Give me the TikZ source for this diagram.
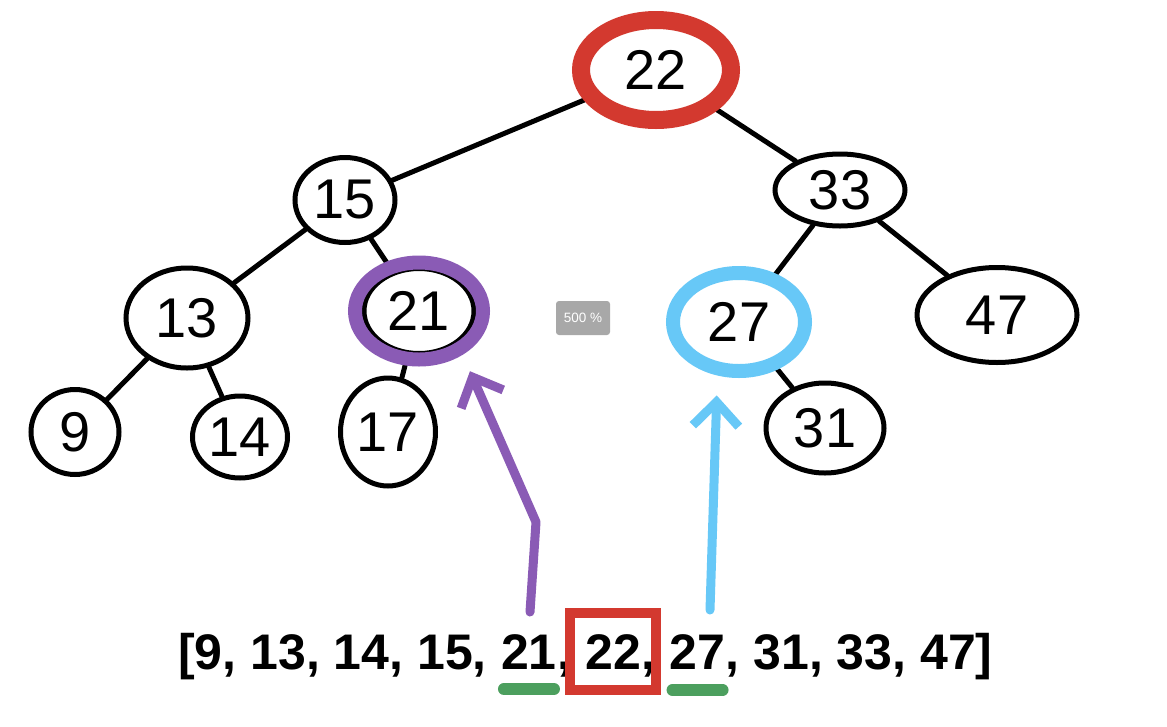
\documentclass[tikz,border=0pt]{standalone}
\usepackage{fontspec}
\setmainfont{Liberation Sans}
\usepackage{tikz}
\usetikzlibrary{shapes.geometric, arrows.meta, positioning, fit}
\definecolor{ringred}{HTML}{D3392F}
\definecolor{ringpurple}{HTML}{8A5BB5}
\definecolor{ringblue}{HTML}{67C8F7}
\definecolor{markgreen}{HTML}{4C9F5E}
\definecolor{badgegray}{HTML}{A8A8A8}
\newcommand{\treefont}{\fontsize{56}{60}\selectfont}
\newcommand{\listfont}{\fontsize{50}{56}\selectfont\bfseries}
\tikzset{
  tnode/.style   = {ellipse, draw, line width=5pt, inner sep=0pt, font=\treefont},
  edge/.style    = {line width=5pt, line cap=round},
  ring/.style    = {ellipse, draw=#1, line width=15pt, inner sep=0pt},
  pointer/.style = {-{Straight Barb[length=24pt, width=46pt]}, line width=9pt,
                    line cap=round, line join=round, draw=#1},
  listtxt/.style = {font=\listfont, inner sep=0pt, anchor=base west},
  uline/.style   = {draw=markgreen, line width=12pt, line cap=round},
  badge/.style   = {fill=badgegray, rounded corners=3pt, text=white,
                    minimum width=54pt, minimum height=34pt, font=\fontsize{13.5}{15}\selectfont},
}

\begin{document}
\begin{tikzpicture}[x=1pt, y=-1pt]
  \path[use as bounding box, fill=white] (0,0) rectangle (1167,726);

  \node[tnode, minimum width=150, minimum height=100] (n22) at (656,70)  {22};
  \node[tnode, minimum width=100, minimum height=85]  (n15) at (345,200) {15};
  \node[tnode, minimum width=130, minimum height=72]  (n33) at (840,190) {33};
  \node[tnode, minimum width=122, minimum height=100] (n13) at (187,318) {13};
  \node[tnode, minimum width=110, minimum height=85]  (n21) at (419,311) {21};
  \node[tnode, minimum width=128, minimum height=94]  (n27) at (739,322) {27};
  \node[tnode, minimum width=160, minimum height=95]  (n47) at (997,315) {47};
  \node[tnode, minimum width=88,  minimum height=85]  (n9)  at (75,432)  {9};
  \node[tnode, minimum width=95,  minimum height=82]  (n14) at (240,437) {14};
  \node[tnode, minimum width=95,  minimum height=108] (n17) at (388,432) {17};
  \node[tnode, minimum width=118, minimum height=90]  (n31) at (825,428) {31};

  \draw[edge] (n22) -- (n15);
  \draw[edge] (n22) -- (n33);
  \draw[edge] (n15) -- (n13);
  \draw[edge] (n15) -- (n21);
  \draw[edge] (n33) -- (n27);
  \draw[edge] (n33) -- (n47);
  \draw[edge] (n13) -- (n9);
  \draw[edge] (n13) -- (n14);
  \draw[edge] (n21) -- (n17);
  \draw[edge] (n27) -- (n31);

  \node[ring=ringred, line width=18pt, minimum width=150, minimum height=100] (h22) at (n22) {};
  \node[ring=ringpurple, line width=14pt, minimum width=128, minimum height=97] (h21) at (n21) {};
  \node[ring=ringblue, line width=14pt, minimum width=132, minimum height=98]  (h27) at (n27) {};

  \node[badge] (zoom) at (583,318) {500 \%};

  \node[listtxt] (lhead) at (178,669) {[9, 13, 14, 15,};
  \node[listtxt] (l21)   at ([xshift=14pt]lhead.base east) {21};
  \node[listtxt] (lc1)   at (l21.base east) {,};
  \node[listtxt] (l22)   at ([xshift=14pt]lc1.base east) {22};
  \node[listtxt] (lc2)   at (l22.base east) {,};
  \node[listtxt] (l27)   at ([xshift=14pt]lc2.base east) {27};
  \node[listtxt] (ltail) at (l27.base east) {, 31, 33, 47]};

  \node[draw=ringred, line width=10pt, inner xsep=15pt, inner ysep=21pt, fit=(l22)] (box22) {};
  \draw[uline] ([xshift=3pt, yshift=-20pt]l21.base west) -- ([xshift=-3pt, yshift=-20pt]l21.base east);
  \draw[uline] ([xshift=3pt, yshift=-21pt]l27.base west) -- ([xshift=-3pt, yshift=-21pt]l27.base east);

  \coordinate (pfoot) at (530,612);
  \coordinate (pbend) at (536,522);
  \coordinate (bfoot) at (710,610);
  \draw[pointer=ringpurple, shorten >=18pt] (pfoot) -- (pbend) -- (h21.-45);
  \draw[pointer=ringblue, shorten >=20pt] (bfoot) -- (h27.-112);
\end{tikzpicture}
\end{document}
